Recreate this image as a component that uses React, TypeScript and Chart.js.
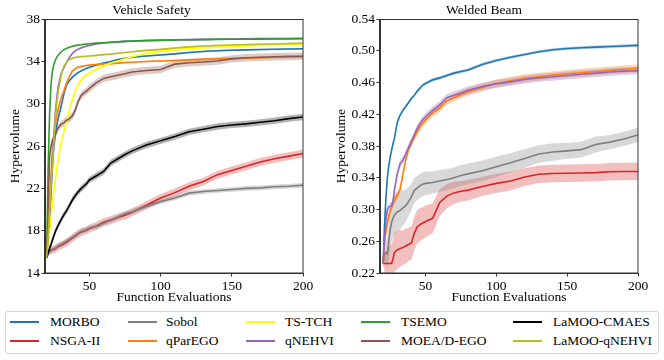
import React, { useEffect, useRef } from 'react';
import { Chart, registerables } from 'chart.js';

Chart.register(...registerables);

// ---------------- data ----------------
const SERIES_NAMES = ['MORBO', 'NSGA-II', 'Sobol', 'qParEGO', 'TS-TCH', 'qNEHVI', 'TSEMO', 'MOEA/D-EGO', 'LaMOO-CMAES', 'LaMOO-qNEHVI'];
const SERIES_COLORS = ['#1f77b4', '#d62728', '#7f7f7f', '#ff7f0e', '#ffff00', '#9467bd', '#2ca02c', '#8c564b', '#000000', '#bcbd22'];

const X_TICKS = [50, 100, 150, 200];
const L_Y_TICKS = [14, 18, 22, 26, 30, 34, 38];
const R_Y_TICKS = [0.22, 0.26, 0.30, 0.34, 0.38, 0.42, 0.46, 0.50, 0.54];

// Vehicle Safety
const L_X = [20, 21, 22, 23, 24, 25, 26, 27, 28, 30, 32, 34, 36, 38, 40, 42, 44, 46, 48, 50, 55, 60, 65, 70, 75, 80, 90, 100, 110, 120, 130, 140, 150, 160, 170, 180, 190, 200];
const L_MORBO = [15.5, 17, 19, 21.5, 24, 25.9, 27, 27.9, 28.6, 29.7, 30.9, 31.8, 32.2, 32.5, 32.75, 32.95, 33.1, 33.22, 33.35, 33.45, 33.67, 33.85, 34.0, 34.18, 34.3, 34.4, 34.52, 34.62, 34.72, 34.85, 34.95, 35.02, 35.07, 35.1, 35.13, 35.16, 35.18, 35.2];
const L_NSGA2 = [15.5, 16.1, 16.15, 16.15, 16.2, 16.25, 16.3, 16.4, 16.5, 16.6, 16.75, 16.9, 17.1, 17.3, 17.5, 17.7, 17.85, 17.95, 18.05, 18.2, 18.45, 18.8, 19.0, 19.25, 19.45, 19.75, 20.4, 21.1, 21.6, 22.2, 22.65, 23.3, 23.7, 24.1, 24.5, 24.8, 25.05, 25.3];
const L_SOBOL = [15.5, 15.8, 16.0, 16.1, 16.2, 16.3, 16.35, 16.45, 16.55, 16.7, 16.85, 17.0, 17.2, 17.35, 17.55, 17.75, 17.9, 18.0, 18.1, 18.25, 18.4, 18.7, 19.0, 19.3, 19.6, 19.8, 20.3, 20.75, 21.1, 21.55, 21.7, 21.8, 21.9, 22.0, 22.05, 22.15, 22.2, 22.3];
const L_QPAREGO = [15.5, 17.5, 20, 23, 25.5, 27, 28, 28.8, 29.5, 30.5, 31.2, 32.0, 32.6, 33.1, 33.3, 33.45, 33.52, 33.58, 33.62, 33.67, 33.72, 33.76, 33.8, 33.85, 33.9, 33.93, 34.0, 34.05, 34.1, 34.15, 34.2, 34.25, 34.28, 34.32, 34.36, 34.4, 34.43, 34.45];
const L_TSTCH = [15.5, 16.8, 18, 19.3, 20.5, 21.7, 22.8, 23.8, 24.7, 26.3, 27.3, 28.45, 29.5, 30.4, 31.2, 31.8, 32.2, 32.5, 32.75, 32.9, 33.3, 33.6, 33.85, 34.05, 34.25, 34.45, 34.75, 34.98, 35.12, 35.22, 35.3, 35.37, 35.43, 35.48, 35.53, 35.57, 35.61, 35.65];
const L_QNEHVI = [15.5, 17.5, 20, 22.5, 25, 27, 29, 30.5, 31.6, 32.8, 33.4, 33.95, 34.4, 34.75, 35.0, 35.15, 35.28, 35.38, 35.46, 35.52, 35.65, 35.75, 35.81, 35.86, 35.9, 35.94, 35.99, 36.02, 36.05, 36.07, 36.09, 36.11, 36.13, 36.14, 36.16, 36.17, 36.18, 36.2];
const L_TSEMO = [15.5, 24, 29, 31.8, 33.1, 33.7, 34.1, 34.4, 34.6, 34.9, 35.1, 35.25, 35.35, 35.45, 35.5, 35.55, 35.58, 35.62, 35.65, 35.68, 35.74, 35.78, 35.82, 35.86, 35.9, 35.93, 35.97, 36.0, 36.03, 36.05, 36.07, 36.09, 36.1, 36.11, 36.12, 36.13, 36.14, 36.15];
const L_MOEAD = [15.5, 20, 25.0, 26.0, 26.5, 26.8, 27.1, 27.4, 27.7, 28.05, 28.2, 28.45, 28.6, 28.85, 29.4, 30.2, 30.75, 31.0, 31.2, 31.45, 32.0, 32.4, 32.55, 32.7, 32.85, 33.0, 33.15, 33.25, 33.75, 33.88, 33.95, 34.05, 34.25, 34.35, 34.4, 34.45, 34.48, 34.5];
const L_LAMOO_CMAES = [15.5, 15.9, 16.3, 16.7, 17.1, 17.5, 17.9, 18.2, 18.5, 19.0, 19.5, 19.9, 20.4, 20.9, 21.3, 21.65, 21.95, 22.2, 22.45, 22.8, 23.2, 23.6, 24.4, 24.8, 25.2, 25.55, 26.1, 26.5, 26.9, 27.35, 27.6, 27.85, 28.0, 28.1, 28.25, 28.4, 28.6, 28.75];
const L_LAMOO_QNEHVI = [15.5, 17.5, 20, 22.5, 24, 26.5, 28.5, 30, 31.1, 32.6, 33.55, 33.95, 34.2, 34.3, 34.38, 34.43, 34.46, 34.48, 34.5, 34.52, 34.58, 34.65, 34.7, 34.78, 34.85, 34.92, 35.05, 35.15, 35.28, 35.38, 35.46, 35.52, 35.56, 35.6, 35.63, 35.66, 35.69, 35.72];
// half-width of the shaded band, one per series (same order as SERIES_NAMES)
const L_SPREAD = [0.08, 0.38, 0.22, 0.1, 0.15, 0.08, 0.06, 0.35, 0.3, 0.08];

// Welded Beam
const R_X = [20, 21, 22, 23, 24, 25, 26, 27, 28, 30, 32, 34, 36, 38, 40, 42, 44, 46, 48, 50, 55, 60, 65, 70, 75, 80, 90, 100, 110, 120, 130, 140, 150, 160, 170, 180, 190, 200];
const R_MORBO = [0.232, 0.28, 0.315, 0.34, 0.355, 0.366, 0.375, 0.383, 0.39, 0.41, 0.419, 0.425, 0.43, 0.435, 0.44, 0.444, 0.449, 0.453, 0.457, 0.459, 0.4635, 0.466, 0.469, 0.472, 0.474, 0.476, 0.483, 0.488, 0.492, 0.4955, 0.499, 0.5015, 0.503, 0.504, 0.5048, 0.5055, 0.5063, 0.507];
const R_NSGA2 = [0.232, 0.232, 0.232, 0.232, 0.232, 0.232, 0.232, 0.238, 0.246, 0.249, 0.251, 0.252, 0.254, 0.256, 0.258, 0.27, 0.278, 0.281, 0.283, 0.285, 0.289, 0.309, 0.317, 0.321, 0.323, 0.3245, 0.329, 0.333, 0.336, 0.341, 0.3445, 0.3455, 0.3458, 0.346, 0.3465, 0.3476, 0.348, 0.348];
const R_SOBOL = [0.232, 0.244, 0.246, 0.244, 0.26, 0.275, 0.284, 0.289, 0.293, 0.297, 0.299, 0.302, 0.305, 0.31, 0.316, 0.324, 0.327, 0.33, 0.332, 0.333, 0.334, 0.336, 0.338, 0.34, 0.343, 0.345, 0.349, 0.354, 0.359, 0.3645, 0.37, 0.3725, 0.374, 0.3755, 0.382, 0.385, 0.389, 0.394];
const R_QPAREGO = [0.232, 0.26, 0.272, 0.283, 0.292, 0.298, 0.303, 0.308, 0.312, 0.318, 0.325, 0.345, 0.363, 0.376, 0.384, 0.391, 0.398, 0.404, 0.409, 0.413, 0.422, 0.428, 0.437, 0.441, 0.445, 0.4486, 0.454, 0.459, 0.4625, 0.4655, 0.4675, 0.4695, 0.4712, 0.4725, 0.474, 0.4755, 0.4768, 0.4781];
const R_QNEHVI = [0.232, 0.262, 0.285, 0.3, 0.303, 0.304, 0.305, 0.31, 0.325, 0.345, 0.358, 0.362, 0.37, 0.378, 0.386, 0.394, 0.402, 0.408, 0.413, 0.417, 0.425, 0.432, 0.441, 0.444, 0.447, 0.4505, 0.455, 0.4585, 0.461, 0.464, 0.466, 0.4675, 0.469, 0.4705, 0.472, 0.4735, 0.4745, 0.4752];
const R_MORBO_SD = [0.002];
const R_NSGA2_SD = [0.002, 0.01, 0.015, 0.02, 0.022, 0.023, 0.024, 0.024, 0.024, 0.024, 0.023, 0.022, 0.022, 0.021, 0.021, 0.021, 0.021, 0.021, 0.02, 0.02, 0.019, 0.017, 0.015, 0.014, 0.013, 0.013, 0.012, 0.012, 0.012, 0.011, 0.011, 0.011, 0.011, 0.011, 0.011, 0.011, 0.011, 0.011];
const R_SOBOL_SD = [0.002, 0.01, 0.015, 0.02, 0.025, 0.025, 0.025, 0.025, 0.025, 0.025, 0.024, 0.022, 0.02, 0.018, 0.017, 0.016, 0.015, 0.015, 0.015, 0.015, 0.014, 0.014, 0.013, 0.013, 0.013, 0.013, 0.013, 0.013, 0.012, 0.012, 0.011, 0.011, 0.01, 0.01, 0.01, 0.009, 0.009, 0.009];
const R_QPAREGO_SD = [0.005];
const R_QNEHVI_SD = [0.005];

// ---------------- helpers ----------------
const FONT = "'Liberation Serif', 'DejaVu Serif', 'Times New Roman', serif";

function hexToRgba(hex: string, a: number) {
  const n = parseInt(hex.slice(1), 16);
  return `rgba(${(n >> 16) & 255},${(n >> 8) & 255},${n & 255},${a})`;
}

type Series = { idx: number; values: number[]; spread: number | number[] };

function buildDatasets(xs: number[], series: Series[]) {
  const ds: any[] = [];
  series.forEach((s, k) => {
    const color = SERIES_COLORS[s.idx];
    const sd = (j: number) => (Array.isArray(s.spread) ? (s.spread.length > 1 ? s.spread[j] : s.spread[0]) : s.spread);
    ds.push({
      data: xs.map((x, j) => ({ x, y: s.values[j] + sd(j) })),
      borderWidth: 0,
      pointRadius: 0,
      backgroundColor: hexToRgba(color, 0.3),
      fill: '+1',
      order: 500 - 2 * k,
    });
    ds.push({
      data: xs.map((x, j) => ({ x, y: s.values[j] - sd(j) })),
      borderWidth: 0,
      pointRadius: 0,
      fill: false,
      order: 499 - 2 * k,
    });
  });
  series.forEach((s) => {
    ds.push({
      data: xs.map((x, j) => ({ x, y: s.values[j] })),
      borderColor: SERIES_COLORS[s.idx],
      backgroundColor: SERIES_COLORS[s.idx],
      borderWidth: 1.6,
      pointRadius: 0,
      fill: false,
      tension: 0,
      order: 100 - s.idx,
    });
  });
  return ds;
}

const framePlugin = {
  id: 'frame',
  afterDatasetsDraw(chart: any) {
    const { ctx, chartArea } = chart;
    ctx.save();
    ctx.strokeStyle = '#333';
    ctx.lineWidth = 1;
    ctx.strokeRect(Math.round(chartArea.left) - 0.5, Math.round(chartArea.top) + 0.5, Math.round(chartArea.right - chartArea.left) + 0.5, Math.round(chartArea.bottom - chartArea.top) - 0.5);
    ctx.restore();
  },
};

function makeOptions(p: {
  title: string; xMin: number; yMin: number; yMax: number; yTicks: number[];
  yWidth: number; rightPad: number; yTitlePad: number; decimals: number;
}) {
  const tickFont = { family: FONT, size: 13.5 };
  return {
    responsive: false,
    animation: false,
    events: [],
    layout: { padding: { left: 0, right: p.rightPad, top: 0, bottom: 0 } },
    plugins: {
      legend: { display: false },
      tooltip: { enabled: false },
      title: {
        display: true,
        text: p.title,
        color: '#000',
        font: { family: FONT, size: 13.5, weight: 'normal', lineHeight: 1.2 },
        padding: { top: 2, bottom: 1 },
      },
    },
    scales: {
      x: {
        type: 'linear',
        min: p.xMin,
        max: 200,
        afterBuildTicks: (s: any) => { s.ticks = X_TICKS.map((v) => ({ value: v })); },
        afterFit: (s: any) => { s.height = 33; },
        grid: { drawOnChartArea: false, drawTicks: true, tickLength: 3.5, color: '#333' },
        border: { color: '#333', width: 1 },
        ticks: { padding: 2, color: '#000', font: tickFont, maxRotation: 0, callback: (v: number) => String(v) },
        title: { display: true, text: 'Function Evaluations', color: '#000', font: { family: FONT, size: 13.5, lineHeight: 1.2 }, padding: { top: 0, bottom: 0 } },
      },
      y: {
        type: 'linear',
        min: p.yMin,
        max: p.yMax,
        afterBuildTicks: (s: any) => { s.ticks = p.yTicks.map((v) => ({ value: v })); },
        afterFit: (s: any) => { s.width = p.yWidth; },
        grid: { drawOnChartArea: false, drawTicks: true, tickLength: 3.5, color: '#333' },
        border: { color: '#333', width: 1 },
        ticks: { padding: 1.5, color: '#000', font: tickFont, callback: (v: number) => v.toFixed(p.decimals) },
        title: { display: true, text: 'Hypervolume', color: '#000', font: { family: FONT, size: 13.5, lineHeight: 1.2 }, padding: { top: p.yTitlePad, bottom: 0 } },
      },
    },
  };
}

function ChartCanvas(props: { width: number; height: number; left: number; build: () => any }) {
  const ref = useRef<HTMLCanvasElement | null>(null);
  useEffect(() => {
    if (!ref.current) return;
    const chart = new Chart(ref.current, props.build());
    return () => chart.destroy();
  }, []);
  return (
    <canvas
      ref={ref}
      width={props.width}
      height={props.height}
      style={{ position: 'absolute', left: props.left, top: 0, width: props.width, height: props.height }}
    />
  );
}

const buildLeft = () => ({
  type: 'line',
  data: {
    datasets: buildDatasets(L_X, [
      { idx: 0, values: L_MORBO, spread: L_SPREAD[0] },
      { idx: 1, values: L_NSGA2, spread: L_SPREAD[1] },
      { idx: 2, values: L_SOBOL, spread: L_SPREAD[2] },
      { idx: 3, values: L_QPAREGO, spread: L_SPREAD[3] },
      { idx: 4, values: L_TSTCH, spread: L_SPREAD[4] },
      { idx: 5, values: L_QNEHVI, spread: L_SPREAD[5] },
      { idx: 6, values: L_TSEMO, spread: L_SPREAD[6] },
      { idx: 7, values: L_MOEAD, spread: L_SPREAD[7] },
      { idx: 8, values: L_LAMOO_CMAES, spread: L_SPREAD[8] },
      { idx: 9, values: L_LAMOO_QNEHVI, spread: L_SPREAD[9] },
    ]),
  },
  options: makeOptions({ title: 'Vehicle Safety', xMin: 18.8, yMin: 14, yMax: 38, yTicks: L_Y_TICKS, yWidth: 45, rightPad: 27, yTitlePad: 7, decimals: 0 }),
  plugins: [framePlugin],
});

const buildRight = () => ({
  type: 'line',
  data: {
    datasets: buildDatasets(R_X, [
      { idx: 0, values: R_MORBO, spread: R_MORBO_SD },
      { idx: 1, values: R_NSGA2, spread: R_NSGA2_SD },
      { idx: 2, values: R_SOBOL, spread: R_SOBOL_SD },
      { idx: 3, values: R_QPAREGO, spread: R_QPAREGO_SD },
      { idx: 5, values: R_QNEHVI, spread: R_QNEHVI_SD },
    ]),
  },
  options: makeOptions({ title: 'Welded Beam', xMin: 17.8, yMin: 0.22, yMax: 0.54, yTicks: R_Y_TICKS, yWidth: 50, rightPad: 26, yTitlePad: 3.5, decimals: 2 }),
  plugins: [framePlugin],
});

function Legend() {
  const lineLeft = [10, 128, 246, 361, 513];
  const textLeft = [50, 166, 285, 401, 553];
  const rows = [322, 341];
  const items: any[] = [];
  SERIES_NAMES.forEach((name, i) => {
    const c = Math.floor(i / 2);
    const r = i % 2;
    items.push(
      <div key={'l' + i} style={{ position: 'absolute', left: lineLeft[c], top: rows[r] - 1, width: 29, height: 2, background: SERIES_COLORS[i] }} />
    );
    items.push(
      <div key={'t' + i} style={{ position: 'absolute', left: textLeft[c], top: rows[r] - 9, height: 18, lineHeight: '18px', fontFamily: FONT, fontSize: 13.5, color: '#000', whiteSpace: 'nowrap' }}>{name}</div>
    );
  });
  return (
    <>
      <div style={{ position: 'absolute', left: 5, top: 311, width: 654, height: 43, boxSizing: 'border-box', border: '1px solid #d4d4d4', borderRadius: 3 }} />
      {items}
    </>
  );
}

export default function App() {
  return (
    <div style={{ position: 'absolute', left: 0, top: 0, width: 664, height: 360, background: '#fff', overflow: 'hidden' }}>
      <ChartCanvas width={330} height={306} left={0} build={buildLeft} />
      <ChartCanvas width={334} height={306} left={330} build={buildRight} />
      <Legend />
    </div>
  );
}
